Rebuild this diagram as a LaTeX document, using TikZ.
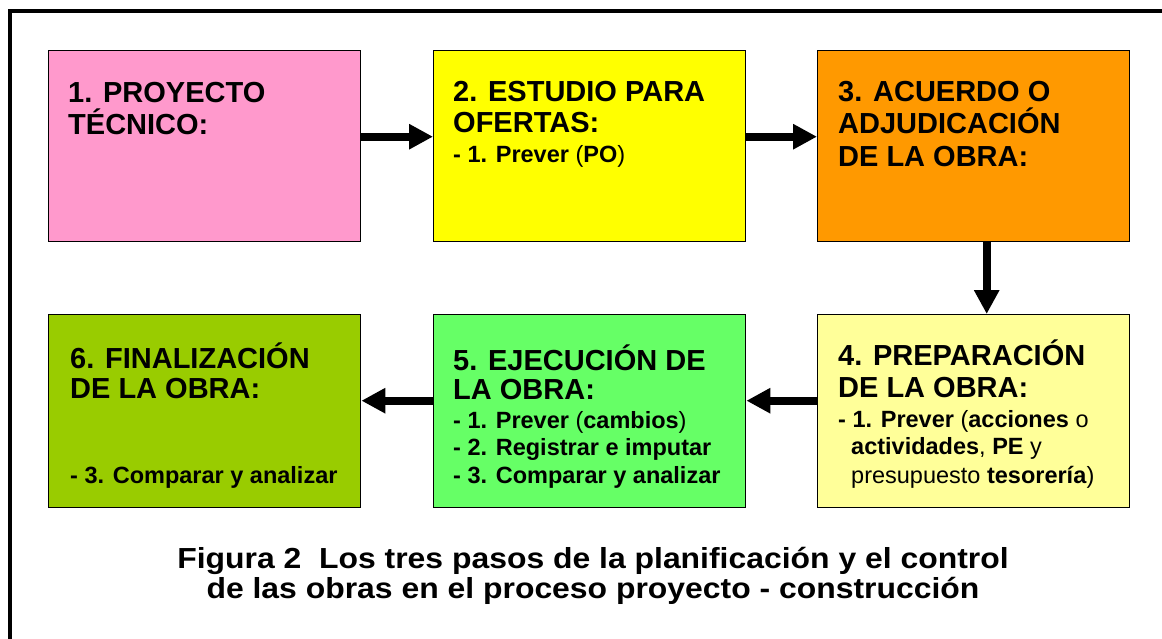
\documentclass[tikz,border=0pt]{standalone}
\usepackage{fontspec}
\usepackage{graphicx}
\setmainfont{Liberation Sans}
\usetikzlibrary{arrows.meta}
\definecolor{cpink}{HTML}{FF99CC}
\definecolor{cyellow}{HTML}{FFFF00}
\definecolor{corange}{HTML}{FF9900}
\definecolor{clight}{HTML}{FFFF99}
\definecolor{cgreen}{HTML}{66FF66}
\definecolor{colive}{HTML}{99CC00}
\begin{document}
\begin{tikzpicture}[x=1pt,y=-1pt,
 stage/.style={draw=black, line width=1.4pt, anchor=north west, minimum width=312pt, inner sep=0pt},
 head/.style={anchor=base west, inner sep=0pt, font=\fontsize{29}{32}\selectfont\bfseries},
 item/.style={anchor=base west, inner sep=0pt, font=\fontsize{23.5}{26}\selectfont},
 captext/.style={anchor=base, inner sep=0pt, font=\fontsize{29}{32}\selectfont\bfseries},
 flow/.style={line width=8pt, -{Triangle[length=24pt,width=24pt]}},
]
\useasboundingbox (0,0) rectangle (1162,639);
\draw[line width=4pt] (10,650) -- (10,11.5) -- (1175,11.5);

\node[stage, fill=cpink, minimum height=191pt] (b1) at (48,50) {};
\node[stage, fill=cyellow, minimum height=191pt] (b2) at (433,50) {};
\node[stage, fill=corange, minimum height=191pt] (b3) at (817,50) {};
\node[stage, fill=clight, minimum height=193pt] (b4) at (817,314) {};
\node[stage, fill=cgreen, minimum height=193pt] (b5) at (433,314) {};
\node[stage, fill=colive, minimum height=193pt] (b6) at (48,314) {};

\draw[flow] ([yshift=9.5pt]b1.east) -- ([yshift=9.5pt]b2.west);
\draw[flow] ([yshift=9.5pt]b2.east) -- ([yshift=9.5pt]b3.west);
\draw[flow] ([xshift=13pt]b3.south) -- ([xshift=13pt]b4.north);
\draw[flow] ([yshift=10.5pt]b4.west) -- ([yshift=10.5pt]b5.east);
\draw[flow] ([yshift=10.5pt]b5.west) -- ([yshift=10.5pt]b6.east);

\node[head] (t1a) at (68,103) {1. PROYECTO};
\node[head] (t1b) at (68,135) {TÉCNICO:};

\node[head] (t2a) at (453,102) {2. ESTUDIO PARA};
\node[head] (t2b) at (453,133) {OFERTAS:};
\node[item] (t2c) at (453,163) {\textbf{- 1. Prever} (\textbf{PO})};

\node[head] (t3a) at (838,102) {3. ACUERDO O};
\node[head] (t3b) at (838,134) {ADJUDICACIÓN};
\node[head] (t3c) at (838,167) {DE LA OBRA:};

\node[head] (t4a) at (838,365) {4. PREPARACIÓN};
\node[head] (t4b) at (838,397) {DE LA OBRA:};
\node[item] (t4c) at (838,427) {\textbf{- 1. Prever} (\textbf{acciones} o};
\node[item] (t4d) at (851,454) {\textbf{actividades}, \textbf{PE} y};
\node[item] (t4e) at (851,483) {presupuesto \textbf{tesorería})};

\node[head] (t5a) at (453,370) {5. EJECUCIÓN DE};
\node[head] (t5b) at (453,399) {LA OBRA:};
\node[item] (t5c) at (453,428) {\textbf{- 1. Prever} (\textbf{cambios})};
\node[item] (t5d) at (453,455) {\textbf{- 2. Registrar e imputar}};
\node[item] (t5e) at (453,483) {\textbf{- 3. Comparar y analizar}};

\node[head] (t6a) at (70,368) {6. FINALIZACIÓN};
\node[head] (t6b) at (70,398) {DE LA OBRA:};
\node[item] (t6c) at (70,483) {\textbf{- 3. Comparar y analizar}};

\node[captext] (c1) at (593,568) {\scalebox{1.1}[1]{Figura 2\ \ Los tres pasos de la planificación y el control}};
\node[captext] (c2) at (593,598) {\scalebox{1.1}[1]{de las obras en el proceso proyecto - construcción}};
\end{tikzpicture}
\end{document}
